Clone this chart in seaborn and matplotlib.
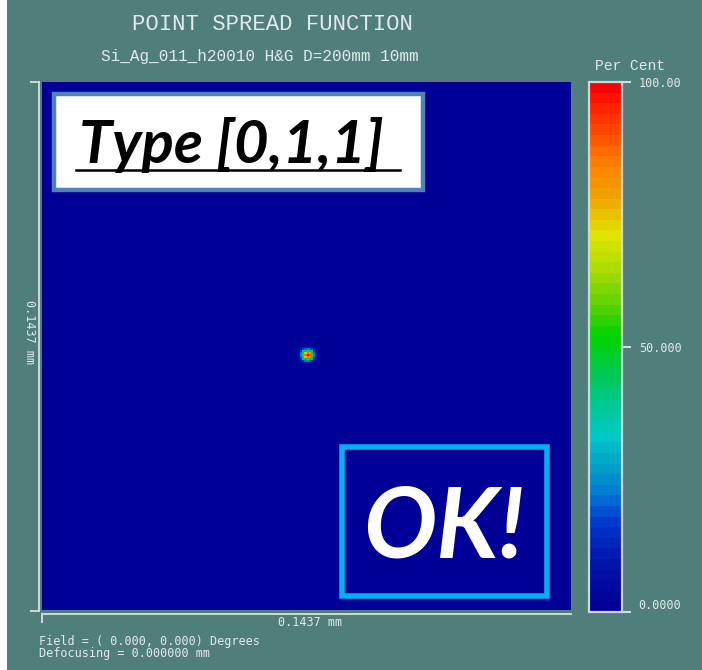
import numpy as np
import matplotlib
matplotlib.use("Agg")
import matplotlib.pyplot as plt
from matplotlib.colors import LinearSegmentedColormap
from matplotlib.patches import Rectangle
from matplotlib.lines import Line2D
import seaborn as sns

# ---- chart text -------------------------------------------------------
title = "POINT SPREAD FUNCTION"
subtitle = "Si_Ag_011_h20010 H&G D=200mm 10mm"
field_line = "Field = ( 0.000, 0.000) Degrees"
defocus_line = "Defocusing = 0.000000 mm"
scale_label = "0.1437 mm"
cbar_title = "Per Cent"
type_label = "Type [0,1,1]"
status_label = "OK!"

# ---- colour scale -----------------------------------------------------
cbar_ticks = [0, 50, 100]
cbar_ticklabels = ["0.0000", "50.000", "100.00"]

# ---- PSF samples (per cent of peak) -----------------------------------
grid_cells = 264
spot_row = 131
spot_col = 127
psf_core = [
    [0, 0, 1, 1, 2, 2, 2, 1, 1, 0, 0],
    [0, 2, 3, 4, 6, 7, 6, 4, 3, 2, 0],
    [1, 3, 7, 14, 20, 24, 20, 14, 7, 3, 1],
    [1, 4, 14, 30, 45, 54, 46, 30, 14, 4, 1],
    [2, 6, 20, 45, 74, 87, 78, 46, 20, 6, 2],
    [2, 7, 24, 54, 87, 100, 91, 55, 24, 7, 2],
    [2, 6, 20, 45, 74, 87, 78, 46, 20, 6, 2],
    [1, 4, 14, 30, 45, 54, 46, 30, 14, 4, 1],
    [1, 3, 7, 14, 20, 24, 20, 14, 7, 3, 1],
    [0, 2, 3, 4, 6, 7, 6, 4, 3, 2, 0],
    [0, 0, 1, 1, 2, 2, 2, 1, 1, 0, 0],
]

psf = np.zeros((grid_cells, grid_cells))
core = np.array(psf_core, dtype=float)
psf[spot_row:spot_row + core.shape[0], spot_col:spot_col + core.shape[1]] = core

# ---- style ------------------------------------------------------------
W, H = 702, 670
BG = "#507e7a"
FG = "#e2eaea"
LINE = "#cfd8d8"

anchors = [
    (0.000, (0, 0, 150)),
    (0.085, (0, 20, 170)),
    (0.130, (0, 40, 190)),
    (0.170, (0, 60, 210)),
    (0.216, (0, 120, 210)),
    (0.270, (0, 160, 200)),
    (0.327, (0, 200, 200)),
    (0.374, (0, 200, 160)),
    (0.450, (0, 200, 80)),
    (0.520, (0, 210, 0)),
    (0.587, (100, 210, 0)),
    (0.650, (170, 220, 0)),
    (0.714, (225, 228, 0)),
    (0.795, (240, 160, 0)),
    (0.850, (255, 128, 0)),
    (0.930, (255, 60, 0)),
    (1.000, (255, 0, 0)),
]
cmap = LinearSegmentedColormap.from_list(
    "psf", [(p, tuple(c / 255 for c in rgb)) for p, rgb in anchors], N=50)


def fx(x):
    return x / W


def fy(y):
    return 1 - y / H


fig = plt.figure(figsize=(W / 100, H / 100), dpi=100, facecolor=BG)
fig.patches.append(Rectangle((0, 0), fx(7), 1, transform=fig.transFigure,
                             facecolor="white", edgecolor="none", zorder=-1))

ax = fig.add_axes([fx(42), fy(610), 529 / W, 528 / H])
cax = fig.add_axes([fx(589), fy(612), 33 / W, 530 / H])

sns.heatmap(psf, ax=ax, cmap=cmap, vmin=0, vmax=100, cbar_ax=cax,
            xticklabels=False, yticklabels=False)
ax.set_xlabel("")
ax.set_ylabel("")
for s in ax.spines.values():
    s.set_visible(False)

cbar = ax.collections[0].colorbar
cbar.set_ticks(cbar_ticks)
cbar.set_ticklabels(cbar_ticklabels)
cbar.outline.set_edgecolor(LINE)
cbar.outline.set_linewidth(1.6)
cax.tick_params(colors=FG, length=6.5, width=1.3, labelsize=8.5, pad=5.5)
for t in cax.get_yticklabels():
    t.set_fontfamily("DejaVu Sans Mono")
    t.set_color(FG)
cax.get_yticklabels()[0].set_verticalalignment("bottom")

# ---- dimension lines ---------------------------------------------------
dim_lines = [
    ((39, 39), (82, 611)),
    ((31, 39), (82, 82)),
    ((31, 39), (611, 611)),
    ((42, 571), (614, 614)),
    ((42, 42), (614, 622)),
]
for xs, ys in dim_lines:
    fig.add_artist(Line2D([fx(x) for x in xs], [fy(y) for y in ys],
                          transform=fig.transFigure, color=LINE, lw=1.4))

mono = "DejaVu Sans Mono"
serif_mono = "Liberation Mono"

fig.text(fx(272), fy(24), title, ha="center", va="center",
         fontsize=16, family=serif_mono, color=FG)
fig.text(fx(260), fy(57), subtitle, ha="center", va="center",
         fontsize=11.5, family=serif_mono, color=FG)
fig.text(fx(630), fy(66), cbar_title, ha="center", va="center",
         fontsize=10.5, family=serif_mono, color=FG)
fig.text(fx(310), fy(623), scale_label, ha="center", va="center",
         fontsize=8.5, family=mono, color=FG)
fig.text(fx(29), fy(332), scale_label, ha="center", va="center",
         rotation=270, fontsize=8.5, family=mono, color=FG)
fig.text(fx(39), fy(641), field_line, ha="left", va="center",
         fontsize=8.5, family=mono, color=FG)
fig.text(fx(39), fy(653), defocus_line, ha="left", va="center",
         fontsize=8.5, family=mono, color=FG)

# ---- call-out boxes ----------------------------------------------------
fig.patches.append(Rectangle((fx(54), fy(190)), (423 - 54) / W, (190 - 94) / H,
                             transform=fig.transFigure, facecolor="white",
                             edgecolor="#4f81bd", lw=3.2, zorder=5))
fig.text(fx(79), fy(163), type_label, ha="left", va="baseline",
         fontsize=43, family="Lato", weight="bold", style="italic",
         color="black", zorder=6)
fig.add_artist(Line2D([fx(76), fx(400)], [fy(170), fy(170)],
                      transform=fig.transFigure, color="black", lw=1.8,
                      zorder=6))

fig.patches.append(Rectangle((fx(342), fy(596)), (547 - 342) / W, (596 - 447) / H,
                             transform=fig.transFigure, facecolor="none",
                             edgecolor="#00b0f0", lw=4, zorder=5))
fig.text(fx(444), fy(558), status_label, ha="center", va="baseline",
         fontsize=70, family="Lato", weight="bold", style="italic",
         color="white", zorder=6)

fig.savefig("out.png", dpi=100, facecolor=BG)
